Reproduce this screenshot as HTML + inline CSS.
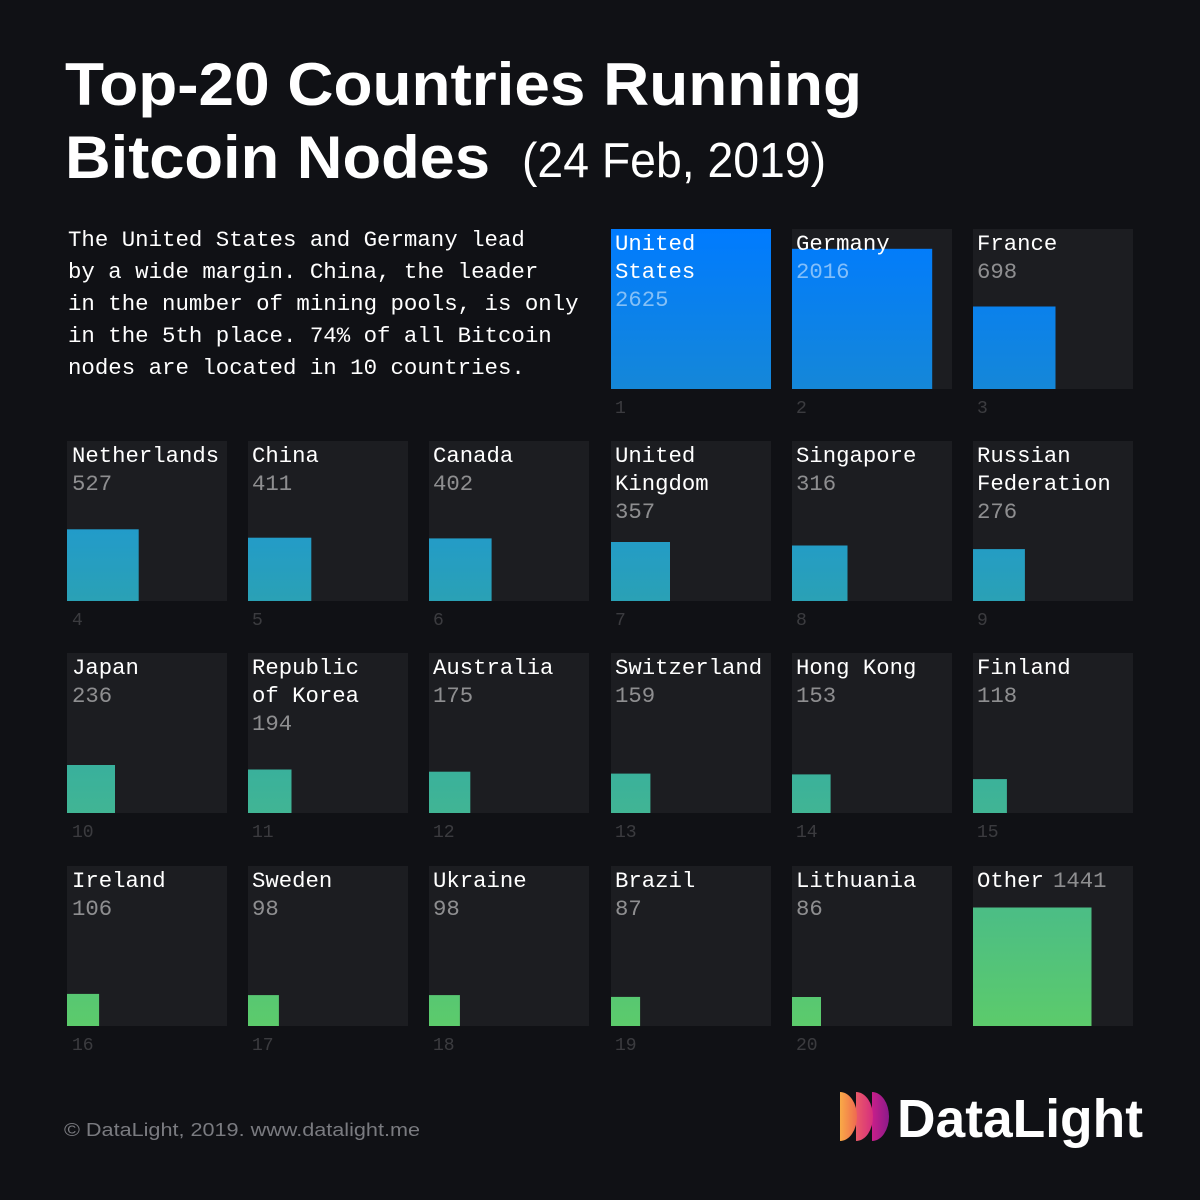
<!DOCTYPE html>
<html><head><meta charset="utf-8"><style>
html,body{margin:0;padding:0;background:#101115;}
svg{display:block;}
.nm{font-family:"Liberation Mono",monospace;font-size:22.3px;fill:#ffffff;}
.nv{font-family:"Liberation Mono",monospace;font-size:22.3px;fill:#ffffff;fill-opacity:0.5;}
.rk{font-family:"Liberation Mono",monospace;font-size:18px;fill:#ffffff;fill-opacity:0.18;}
.para{font-family:"Liberation Mono",monospace;font-size:22.4px;fill:#ffffff;}
</style></head><body>
<svg width="1200" height="1200" viewBox="0 0 1200 1200" xmlns="http://www.w3.org/2000/svg">
<defs>
<linearGradient id="g" gradientUnits="userSpaceOnUse" x1="0" y1="229" x2="0" y2="1026">
<stop offset="0" stop-color="#007bff"/>
<stop offset="0.2" stop-color="#1587d8"/>
<stop offset="0.376" stop-color="#229bca"/>
<stop offset="0.467" stop-color="#2aa1b5"/>
<stop offset="0.674" stop-color="#39b09c"/>
<stop offset="0.733" stop-color="#41b594"/>
<stop offset="0.85" stop-color="#4bbd86"/>
<stop offset="1" stop-color="#5ccb6b"/>
</linearGradient>
<linearGradient id="l1" x1="0" y1="0" x2="1" y2="0"><stop offset="0" stop-color="#f9aa47"/><stop offset="1" stop-color="#ee6a50"/></linearGradient>
<linearGradient id="l2" x1="0" y1="0" x2="1" y2="0"><stop offset="0" stop-color="#ea5a68"/><stop offset="1" stop-color="#d62e7e"/></linearGradient>
<linearGradient id="l3" x1="0" y1="0" x2="1" y2="0"><stop offset="0" stop-color="#c81f8a"/><stop offset="1" stop-color="#8c1a8a"/></linearGradient>
</defs>
<rect width="1200" height="1200" fill="#101115"/>

<!-- Title -->
<text x="65" y="105" font-family="Liberation Sans, sans-serif" font-weight="bold" font-size="60" fill="#fff" textLength="797" lengthAdjust="spacingAndGlyphs">Top-20 Countries Running</text>
<text x="65" y="178" font-family="Liberation Sans, sans-serif" font-weight="bold" font-size="60" fill="#fff" textLength="425" lengthAdjust="spacingAndGlyphs">Bitcoin Nodes</text>
<text x="522" y="177" font-family="Liberation Sans, sans-serif" font-size="49" fill="#fff" textLength="304" lengthAdjust="spacingAndGlyphs">(24 Feb, 2019)</text>

<!-- Paragraph -->
<text class="para" x="68" y="246">The United States and Germany lead</text>
<text class="para" x="68" y="278">by a wide margin. China, the leader</text>
<text class="para" x="68" y="310">in the number of mining pools, is only</text>
<text class="para" x="68" y="342">in the 5th place. 74% of all Bitcoin</text>
<text class="para" x="68" y="374">nodes are located in 10 countries.</text>

<!-- Row 1 -->
<rect x="611" y="229" width="160" height="160" fill="#1c1d21"/>
<rect x="611" y="229" width="160" height="160" fill="url(#g)"/>
<text class="nm" x="615" y="250">United</text><text class="nm" x="615" y="278">States</text><text class="nv" x="615" y="306">2625</text>
<text class="rk" x="615" y="413">1</text>

<rect x="792" y="229" width="160" height="160" fill="#1c1d21"/>
<rect x="792" y="248.8" width="140.2" height="140.2" fill="url(#g)"/>
<text class="nm" x="796" y="250">Germany</text><text class="nv" x="796" y="278">2016</text>
<text class="rk" x="796" y="413">2</text>

<rect x="973" y="229" width="160" height="160" fill="#1c1d21"/>
<rect x="973" y="306.5" width="82.5" height="82.5" fill="url(#g)"/>
<text class="nm" x="977" y="250">France</text><text class="nv" x="977" y="278">698</text>
<text class="rk" x="977" y="413">3</text>

<!-- Row 2 -->
<rect x="67" y="441" width="160" height="160" fill="#1c1d21"/>
<rect x="67" y="529.3" width="71.7" height="71.7" fill="url(#g)"/>
<text class="nm" x="72" y="462">Netherlands</text><text class="nv" x="72" y="490">527</text>
<text class="rk" x="72" y="625">4</text>

<rect x="248" y="441" width="160" height="160" fill="#1c1d21"/>
<rect x="248" y="537.7" width="63.3" height="63.3" fill="url(#g)"/>
<text class="nm" x="252" y="462">China</text><text class="nv" x="252" y="490">411</text>
<text class="rk" x="252" y="625">5</text>

<rect x="429" y="441" width="160" height="160" fill="#1c1d21"/>
<rect x="429" y="538.4" width="62.6" height="62.6" fill="url(#g)"/>
<text class="nm" x="433" y="462">Canada</text><text class="nv" x="433" y="490">402</text>
<text class="rk" x="433" y="625">6</text>

<rect x="611" y="441" width="160" height="160" fill="#1c1d21"/>
<rect x="611" y="542" width="59" height="59" fill="url(#g)"/>
<text class="nm" x="615" y="462">United</text><text class="nm" x="615" y="490">Kingdom</text><text class="nv" x="615" y="518">357</text>
<text class="rk" x="615" y="625">7</text>

<rect x="792" y="441" width="160" height="160" fill="#1c1d21"/>
<rect x="792" y="545.5" width="55.5" height="55.5" fill="url(#g)"/>
<text class="nm" x="796" y="462">Singapore</text><text class="nv" x="796" y="490">316</text>
<text class="rk" x="796" y="625">8</text>

<rect x="973" y="441" width="160" height="160" fill="#1c1d21"/>
<rect x="973" y="549.1" width="51.9" height="51.9" fill="url(#g)"/>
<text class="nm" x="977" y="462">Russian</text><text class="nm" x="977" y="490">Federation</text><text class="nv" x="977" y="518">276</text>
<text class="rk" x="977" y="625">9</text>

<!-- Row 3 -->
<rect x="67" y="653" width="160" height="160" fill="#1c1d21"/>
<rect x="67" y="765" width="48" height="48" fill="url(#g)"/>
<text class="nm" x="72" y="674">Japan</text><text class="nv" x="72" y="702">236</text>
<text class="rk" x="72" y="837">10</text>

<rect x="248" y="653" width="160" height="160" fill="#1c1d21"/>
<rect x="248" y="769.5" width="43.5" height="43.5" fill="url(#g)"/>
<text class="nm" x="252" y="674">Republic</text><text class="nm" x="252" y="702">of Korea</text><text class="nv" x="252" y="730">194</text>
<text class="rk" x="252" y="837">11</text>

<rect x="429" y="653" width="160" height="160" fill="#1c1d21"/>
<rect x="429" y="771.7" width="41.3" height="41.3" fill="url(#g)"/>
<text class="nm" x="433" y="674">Australia</text><text class="nv" x="433" y="702">175</text>
<text class="rk" x="433" y="837">12</text>

<rect x="611" y="653" width="160" height="160" fill="#1c1d21"/>
<rect x="611" y="773.6" width="39.4" height="39.4" fill="url(#g)"/>
<text class="nm" x="615" y="674">Switzerland</text><text class="nv" x="615" y="702">159</text>
<text class="rk" x="615" y="837">13</text>

<rect x="792" y="653" width="160" height="160" fill="#1c1d21"/>
<rect x="792" y="774.4" width="38.6" height="38.6" fill="url(#g)"/>
<text class="nm" x="796" y="674">Hong Kong</text><text class="nv" x="796" y="702">153</text>
<text class="rk" x="796" y="837">14</text>

<rect x="973" y="653" width="160" height="160" fill="#1c1d21"/>
<rect x="973" y="779.1" width="33.9" height="33.9" fill="url(#g)"/>
<text class="nm" x="977" y="674">Finland</text><text class="nv" x="977" y="702">118</text>
<text class="rk" x="977" y="837">15</text>

<!-- Row 4 -->
<rect x="67" y="866" width="160" height="160" fill="#1c1d21"/>
<rect x="67" y="993.9" width="32.1" height="32.1" fill="url(#g)"/>
<text class="nm" x="72" y="887">Ireland</text><text class="nv" x="72" y="915">106</text>
<text class="rk" x="72" y="1050">16</text>

<rect x="248" y="866" width="160" height="160" fill="#1c1d21"/>
<rect x="248" y="995.1" width="30.9" height="30.9" fill="url(#g)"/>
<text class="nm" x="252" y="887">Sweden</text><text class="nv" x="252" y="915">98</text>
<text class="rk" x="252" y="1050">17</text>

<rect x="429" y="866" width="160" height="160" fill="#1c1d21"/>
<rect x="429" y="995.1" width="30.9" height="30.9" fill="url(#g)"/>
<text class="nm" x="433" y="887">Ukraine</text><text class="nv" x="433" y="915">98</text>
<text class="rk" x="433" y="1050">18</text>

<rect x="611" y="866" width="160" height="160" fill="#1c1d21"/>
<rect x="611" y="996.9" width="29.1" height="29.1" fill="url(#g)"/>
<text class="nm" x="615" y="887">Brazil</text><text class="nv" x="615" y="915">87</text>
<text class="rk" x="615" y="1050">19</text>

<rect x="792" y="866" width="160" height="160" fill="#1c1d21"/>
<rect x="792" y="997" width="29" height="29" fill="url(#g)"/>
<text class="nm" x="796" y="887">Lithuania</text><text class="nv" x="796" y="915">86</text>
<text class="rk" x="796" y="1050">20</text>

<rect x="973" y="866" width="160" height="160" fill="#1c1d21"/>
<rect x="973" y="907.5" width="118.5" height="118.5" fill="url(#g)"/>
<text class="nm" x="977" y="887">Other</text><text class="nv" x="1053" y="887">1441</text>

<!-- Footer -->
<text x="64" y="1136" font-family="Liberation Sans, sans-serif" font-size="18" fill="#7a7b80" textLength="356" lengthAdjust="spacingAndGlyphs">© DataLight, 2019. www.datalight.me</text>

<!-- Logo (drawn back-to-front so each curve is visible) -->
<path d="M872 1092 A17 24.5 0 0 1 872 1141 Z" fill="url(#l3)"/>
<path d="M856 1092 A17 24.5 0 0 1 856 1141 Z" fill="url(#l2)"/>
<path d="M840 1092 A17 24.5 0 0 1 840 1141 Z" fill="url(#l1)"/>
<text x="897" y="1137" font-family="Liberation Sans, sans-serif" font-weight="bold" font-size="54" fill="#fff" textLength="246" lengthAdjust="spacingAndGlyphs">DataLight</text>
</svg>
</body></html>
